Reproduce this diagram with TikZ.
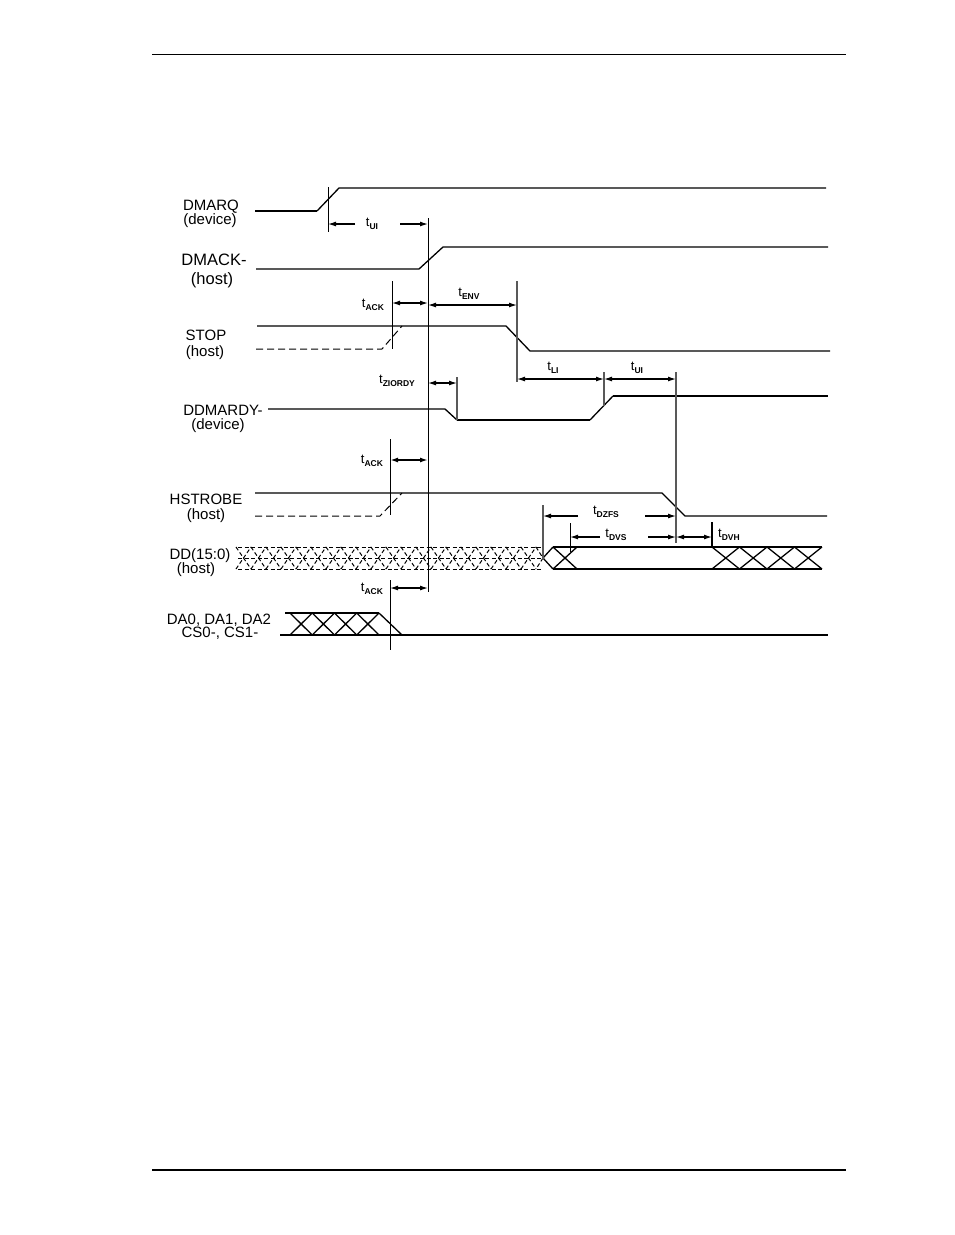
\documentclass[tikz,border=0pt]{standalone}
\usepackage{fontspec}
\setmainfont{Liberation Sans}
\usetikzlibrary{arrows.meta}
\newcommand{\tsub}[1]{\fontsize{13}{13}\selectfont t\raisebox{-2.5pt}{\fontsize{8.5}{8.5}\selectfont\bfseries #1}}
\tikzset{sig/.style={line width=1.3pt},
	thicksig/.style={line width=2.2pt},
	dontcare/.style={line width=1pt,dash pattern=on 7pt off 4pt},
	busdash/.style={line width=1pt,dash pattern=on 4pt off 2.5pt},
	refline/.style={line width=1pt},
	grayline/.style={line width=1.5pt,black!65},
	dimarrow/.style={line width=1.2pt,{Latex[length=8pt,width=5pt]}-{Latex[length=8pt,width=5pt]}},
	halfarrow/.style={line width=1.2pt,-{Latex[length=8pt,width=5pt]}},
	lab/.style={font=\fontsize{15}{15}\selectfont,anchor=base,inner sep=0pt},
	biglab/.style={font=\fontsize{16.5}{16.5}\selectfont,anchor=base,inner sep=0pt},
	tlab/.style={inner sep=0pt}}
\begin{document}
\begin{tikzpicture}[x=1pt,y=-1pt]
\useasboundingbox (0,0) rectangle (954,1235);
% page rules
\draw[line width=1pt] (152,54) -- (846,54);
\draw[line width=2.5pt] (152,1170) -- (846,1170);
% signal names
\node[lab] (dmarq) at (211,210) {DMARQ};
\node[lab] (dmarqdev) at (210,224) {(device)};
\node[biglab] (dmack) at (214,265) {DMACK-};
\node[biglab] (dmackhost) at (212,284) {(host)};
\node[lab] (stop) at (206,340) {STOP};
\node[lab] (stophost) at (205,356) {(host)};
\node[lab] (ddmardy) at (223,415) {DDMARDY-};
\node[lab] (ddmardydev) at (218,429) {(device)};
\node[lab] (hstrobe) at (206,504) {HSTROBE};
\node[lab] (hstrobehost) at (206,519) {(host)};
\node[lab] (dd) at (200,559) {DD(15:0)};
\node[lab] (ddhost) at (196,573) {(host)};
\node[lab] (da) at (219,624) {DA0, DA1, DA2};
\node[lab] (cs) at (220,637) {CS0-, CS1-};
% waveforms
\draw[thicksig] (255,211) -- (317,211);
\draw[sig] (317,211) -- (339,188) -- (826,188);
\draw[sig] (256,269) -- (419,269) -- (443,247) -- (828,247);
\draw[sig] (257,326) -- (506,326) -- (530,351) -- (830,351);
\draw[dontcare] (256,349) -- (382,349) -- (402,326);
\draw[sig] (268,409) -- (445,409) -- (457,420);
\draw[thicksig] (457,420) -- (590,420);
\draw[sig] (590,420) -- (613,396);
\draw[thicksig] (613,396) -- (828,396);
\draw[sig] (255,493) -- (662,493) -- (685,516) -- (827,516);
\draw[dontcare] (255,516) -- (380,516) -- (402,493);
% data bus
\draw[busdash] (238,547) -- (543,547) (238,558) -- (543,558) (238,569) -- (543,569);
\foreach \i in {0,...,19}
	\draw[busdash] (236+15*\i,547) -- (251+15*\i,569) (236+15*\i,569) -- (251+15*\i,547);
\draw[busdash] (536,547) -- (543,558) -- (536,569);
\draw[sig] (553,547) -- (543,558) -- (553,569) (553,547) -- (577,569) (553,569) -- (577,547);
\draw[sig] (553,547) -- (822,547) (553,569) -- (822,569);
\foreach \i in {0,...,3}
	\draw[sig] (712+27.5*\i,547) -- (739.5+27.5*\i,569) (712+27.5*\i,569) -- (739.5+27.5*\i,547);
% address bus
\draw[sig] (285,613) -- (379,613) (280,635) -- (828,635);
\foreach \i in {0,...,3}
	\draw[sig] (290+22.25*\i,613) -- (312.25+22.25*\i,635) (290+22.25*\i,635) -- (312.25+22.25*\i,613);
\draw[sig] (379,613) -- (402,635);
% reference lines
\draw[refline] (328,187) -- (328,232);
\draw[refline] (428,218) -- (428,592);
\draw[refline] (392,281) -- (392,349);
\draw[grayline] (517,281) -- (517,382);
\draw[grayline] (604,372) -- (604,406);
\draw[grayline] (676,372) -- (676,543);
\draw[grayline] (457,377) -- (457,420);
\draw[refline] (390,439) -- (390,515);
\draw[grayline] (543,505) -- (543,559);
\draw[refline] (570,523) -- (570,552);
\draw[line width=2pt] (712,522) -- (712,547);
\draw[refline] (390,580) -- (390,650);
% timing parameters
\draw[halfarrow] (355,224) -- (328,224);
\draw[halfarrow] (400,224) -- (428,224);
\node[tlab] (tui1) at (372,224) {\tsub{UI}};
\draw[dimarrow] (392,303) -- (428,303);
\node[tlab] (tack1) at (373,305) {\tsub{ACK}};
\draw[dimarrow] (428,305) -- (517,305);
\node[tlab] (tenv) at (469,294) {\tsub{ENV}};
\draw[dimarrow] (517,379) -- (604,379);
\node[tlab] (tli) at (553,368) {\tsub{LI}};
\draw[dimarrow] (604,379) -- (676,379);
\node[tlab] (tui2) at (637,368) {\tsub{UI}};
\draw[dimarrow] (428,383) -- (457,383);
\node[tlab] (tziordy) at (397,381) {\tsub{ZIORDY}};
\draw[dimarrow,line width=1.7pt] (390,460) -- (428,460);
\node[tlab] (tack2) at (372,461) {\tsub{ACK}};
\draw[halfarrow] (578,516) -- (543,516);
\draw[halfarrow] (645,516) -- (676,516);
\node[tlab] (tdzfs) at (606,512) {\tsub{DZFS}};
\draw[halfarrow] (600,537) -- (570,537);
\draw[halfarrow] (648,537) -- (676,537);
\node[tlab] (tdvs) at (616,535) {\tsub{DVS}};
\draw[dimarrow] (676,537) -- (712,537);
\node[tlab] (tdvh) at (729,535) {\tsub{DVH}};
\draw[dimarrow] (390,588) -- (428,588);
\node[tlab] (tack3) at (372,589) {\tsub{ACK}};
\end{tikzpicture}
\end{document}
